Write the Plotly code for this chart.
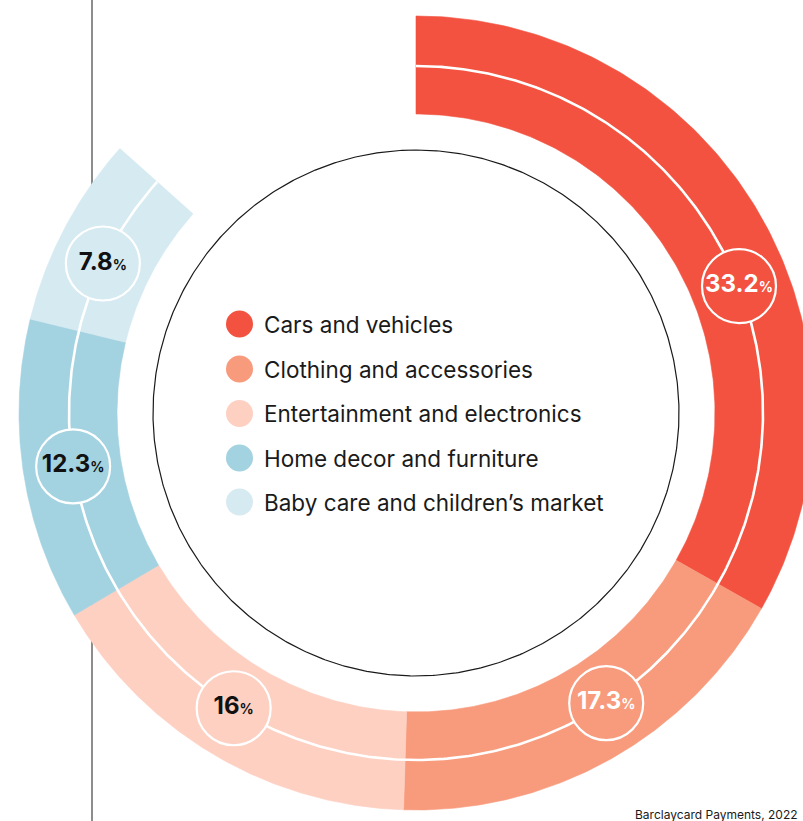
import numpy as np
import plotly.graph_objects as go

# Share of transactions by category (percent of the full ring)
categories = [
    "Cars and vehicles",
    "Clothing and accessories",
    "Entertainment and electronics",
    "Home decor and furniture",
    "Baby care and children\u2019s market",
]
shares = [33.2, 17.3, 16, 12.3, 7.8]
colors = ["#F2523F", "#F89A7C", "#FDD0C2", "#A3D2E0", "#D5EAF1"]
label_text_colors = ["#FFFFFF", "#FFFFFF", "#111111", "#111111", "#111111"]
source_note = "Barclaycard Payments, 2022"

W, H = 803, 821
CX, CY = 416, 413            # ring centre in pixels
R_OUT, R_IN, R_MID = 397, 299, 347
R_CORE = 263                 # thin inner circle
FONT = "Inter, Lato, sans-serif"

# small angular nudges (degrees) applied to the value badges
badge_nudge = [8.8, -3.9, 1.1, -0.4, -2.2]


def polar_xy(r, deg):
    t = np.radians(deg)
    return r * np.sin(t), r * np.cos(t)


fig = go.Figure()

start = 0.0
mids = []
for name, val, col in zip(categories, shares, colors):
    a0 = start * 3.6
    a1 = (start + val) * 3.6
    th = np.linspace(a0, a1, 160)
    xo, yo = polar_xy(R_OUT, th)
    xi, yi = polar_xy(R_IN, th[::-1])
    xs = np.concatenate([xo, xi, xo[:1]])
    ys = np.concatenate([yo, yi, yo[:1]])
    fig.add_trace(go.Scatter(
        x=xs, y=ys, mode="lines", fill="toself", fillcolor=col,
        line=dict(color=col, width=0.6), hoverinfo="skip", showlegend=False,
    ))
    mids.append((a0 + a1) / 2)
    start += val

# white guide line running through the middle of the ring
th = np.linspace(0, start * 3.6, 600)
gx, gy = polar_xy(R_MID, th)
fig.add_trace(go.Scatter(x=gx, y=gy, mode="lines",
                         line=dict(color="white", width=2.6),
                         hoverinfo="skip", showlegend=False))

# thin inner circle
th = np.linspace(0, 360, 720)
cx_, cy_ = polar_xy(R_CORE, th)
fig.add_trace(go.Scatter(x=cx_, y=cy_, mode="lines",
                         line=dict(color="#1a1a1a", width=1.2),
                         hoverinfo="skip", showlegend=False))

# value badges sitting on the guide line
bx, by = polar_xy(R_MID, np.array(mids) + np.array(badge_nudge))
badge_labels = [f"<b>{v:g}<span style='font-size:14px'>%</span></b>" for v in shares]
fig.add_trace(go.Scatter(
    x=bx, y=by, mode="markers+text",
    marker=dict(size=74, color=colors, line=dict(color="white", width=2.2)),
    text=badge_labels, textposition="middle center",
    textfont=dict(family=FONT, size=24, color=label_text_colors),
    hoverinfo="skip", showlegend=False,
))

# legend inside the ring
leg_x = 239.5 - CX
leg_y = [CY - y for y in (324, 369, 413.5, 458, 502)]
fig.add_trace(go.Scatter(
    x=[leg_x] * len(categories), y=leg_y, mode="markers",
    marker=dict(size=27, color=colors, line=dict(width=0)),
    hoverinfo="skip", showlegend=False,
))
for name, yv in zip(categories, leg_y):
    fig.add_annotation(x=262 - CX, y=yv, text=name, showarrow=False,
                       xanchor="left", yanchor="middle",
                       font=dict(family=FONT, size=22.5, color="#1a1a1a"))

# vertical rule on the left, kept underneath the ring
fig.add_shape(type="line", xref="paper", yref="paper", layer="below",
              x0=92 / W, x1=92 / W, y0=0, y1=1,
              line=dict(color="#1a1a1a", width=1))

fig.add_annotation(xref="paper", yref="paper", x=800 / W, y=(H - 814) / H,
                   text=source_note, showarrow=False, xanchor="right",
                   yanchor="middle",
                   font=dict(family=FONT, size=12, color="#1a1a1a"))

fig.update_xaxes(range=[-CX, W - CX], visible=False, fixedrange=True)
fig.update_yaxes(range=[-(H - CY), CY], visible=False, fixedrange=True)
fig.update_layout(
    width=W, height=H, margin=dict(l=0, r=0, t=0, b=0),
    paper_bgcolor="white", plot_bgcolor="white",
    hovermode=False, showlegend=False,
)

fig.write_html("out.html", config={"displayModeBar": False})
